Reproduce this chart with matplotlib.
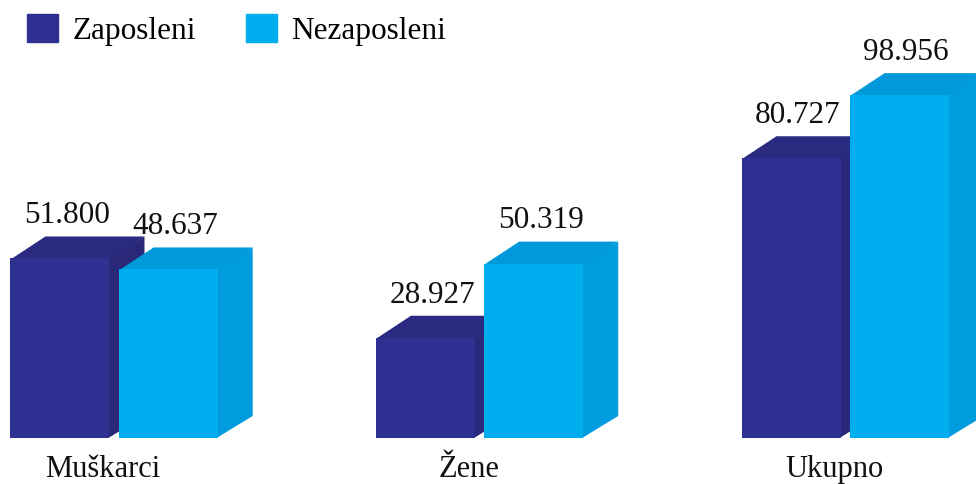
import matplotlib.pyplot as plt
from matplotlib.patches import Polygon, Patch

categories = ["Muškarci", "Žene", "Ukupno"]
series = ["Zaposleni", "Nezaposleni"]
zaposleni = [51.800, 28.927, 80.727]
nezaposleni = [48.637, 50.319, 98.956]
value_labels = [["51.800", "28.927", "80.727"], ["48.637", "50.319", "98.956"]]

front = ["#2E3192", "#00AEEF"]
top = ["#2A2A80", "#009ADB"]
side = ["#292879", "#009CDD"]

plt.rcParams['font.family'] = ['Liberation Serif', 'DejaVu Serif']

fig = plt.figure(figsize=(9.76, 4.84), dpi=100)
ax = fig.add_axes([0, 0, 1, 1])
ax.set_xlim(-0.312, 2.358)
ax.set_ylim(-13.28, 126.4)
ax.axis("off")

width = 0.271
offset = 0.148
# depth of the fake 3D box in data units
ddx = 35 / 365.5
ddy = 22 / 3.464

for s, vals in enumerate([zaposleni, nezaposleni]):
    for i, v in enumerate(vals):
        x0 = i + (s * 2 - 1) * offset - width / 2
        x1 = x0 + width
        # side face
        ax.add_patch(Polygon([(x1 - 0.003, 0), (x1 + ddx, ddy), (x1 + ddx, v + ddy), (x1 - 0.003, v)],
                             closed=True, fc=side[s], ec="none"))
        # top face
        ax.add_patch(Polygon([(x0, v - 0.3), (x0 + ddx, v + ddy), (x1 + ddx, v + ddy), (x1, v - 0.3)],
                             closed=True, fc=top[s], ec="none"))
        # front face
        ax.bar(x0, v, width=width, align="edge", color=front[s], linewidth=0)
        ax.text(x0 + width / 2 + ddx * 0.2, v + ddy + 1.8, value_labels[s][i],
                ha="center", va="bottom", fontsize=22.5, color="#111111")

for i, c in enumerate(categories):
    ax.text(i - 0.03, -5.0, c, ha="center", va="top", fontsize=22, color="#111111")

handles = [Patch(color=front[0]), Patch(color=front[1])]
ax.legend(handles, series, loc="upper left", bbox_to_anchor=(27 / 976, 1 - 14 / 484),
          ncol=2, frameon=False, fontsize=22.5, handlelength=1.0, handleheight=1.0,
          handletextpad=0.45, columnspacing=1.6, borderpad=0, borderaxespad=0)

fig.savefig("out.png", dpi=100)
